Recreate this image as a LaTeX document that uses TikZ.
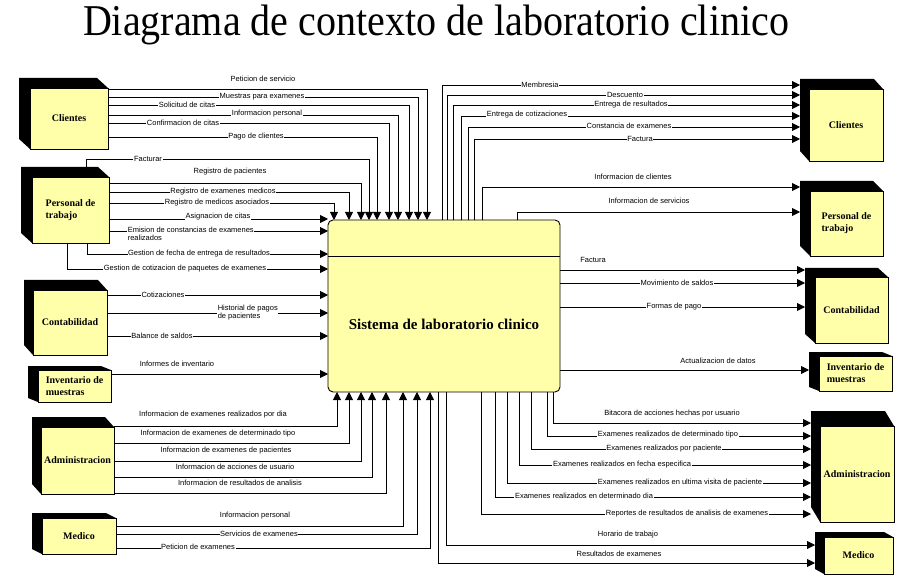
\documentclass[tikz,border=0pt]{standalone}
\usepackage{fontspec}
\setmainfont{Liberation Serif}
\setsansfont{Liberation Sans}
\usetikzlibrary{arrows.meta,calc}
\definecolor{entfill}{RGB}{255,255,170}
\tikzset{
  ent/.style={draw=black, line width=0.8pt, fill=entfill, anchor=north west,
    inner sep=0pt, outer sep=0pt, align=left,
    font=\fontsize{10}{12}\selectfont\bfseries},
  flow/.style={draw=black, line width=0.9pt, -{Triangle[length=8pt,width=8pt]}},
  lab/.style={font=\sffamily\fontsize{7.5}{8.7}\selectfont, fill=white, inner sep=0.6pt, align=left},
}
\newcommand{\entbox}[8]{%
  \fill[black] ({#2-#6},{#3-#7}) -- ({#4-#6},{#3-#7}) -- (#4,#3) -- (#4,#5) -- (#2,#5) -- ({#2-#6},{#5-#7}) -- cycle;
  \node[ent, minimum width={#4-#2}, minimum height={#5-#3}] (#1) at (#2,#3) {#8};
}
\begin{document}
\begin{tikzpicture}[x=1pt,y=-1pt]
\fill[white] (0,0) rectangle (916,580);
\useasboundingbox (0,0) rectangle (916,580);

\node[anchor=base] (title) at (436,36) {\scalebox{0.91}[1]{\fontsize{44}{48}\selectfont Diagrama de contexto de laboratorio clinico}};

% main process
\node[draw=black, line width=0.9pt, fill=entfill, rounded corners=5pt, anchor=north west,
  minimum width=232, minimum height=172, inner sep=0pt, outer sep=0pt] (sys) at (328,220) {};
\draw[line width=0.9pt] (sys.west |- 0,256) -- (sys.east |- 0,256);
\node[font=\fontsize{15}{17}\selectfont\bfseries] (systxt) at (444,324) {Sistema de laboratorio clinico};

% external entities (left)
\entbox{cliL}{30}{88}{108}{149}{11}{10}{Clientes}
\entbox{perL}{32}{177}{109}{243}{11}{10}{Personal de\\trabajo}
\entbox{conL}{33}{290}{107}{355}{9}{10}{Contabilidad}
\entbox{invL}{38}{370}{111}{402}{10}{4}{Inventario de\\muestras}
\entbox{admL}{41}{427}{114}{494}{9}{10}{Administracion}
\entbox{medL}{42}{518}{116}{554}{10}{5}{Medico}
% external entities (right)
\entbox{cliR}{809}{89}{883}{161}{9}{10}{Clientes}
\entbox{perR}{810}{191}{883}{256}{10}{10}{Personal de\\trabajo}
\entbox{conR}{815}{277}{888}{343}{10}{9}{Contabilidad}
\entbox{invR}{819}{356}{892}{391}{10}{4}{Inventario de\\muestras}
\entbox{admR}{820}{426}{894}{522}{9}{15}{Administracion}
\entbox{medR}{824}{537}{893}{574}{9}{5}{Medico}

% ---- Clientes -> sistema
\draw[flow] (cliL.east |- 0,89) -| (sys.north -| 427,0);
\draw[flow] (cliL.east |- 0,97) -| (sys.north -| 418,0);
\draw[flow] (cliL.east |- 0,105) -| (sys.north -| 409,0);
\draw[flow] (cliL.east |- 0,115) -| (sys.north -| 398,0);
\draw[flow] (cliL.east |- 0,123) -| (sys.north -| 389,0);
\draw[flow] (cliL.east |- 0,137) -| (sys.north -| 377,0);
\node[lab] (l1) at (263,79) {Peticion de servicio};
\node[lab] (l2) at (262,97) {Muestras para examenes};
\node[lab] (l3) at (187,105) {Solicitud de citas};
\node[lab] (l4) at (267,114) {Informacion personal};
\node[lab] (l5) at (183,123) {Confirmacion de citas};
\node[lab] (l6) at (256,137) {Pago de clientes};

% ---- Personal -> sistema
\draw[flow] (perL.north -| 86,0) -- ++(0,-18) -| (sys.north -| 369,0);
\draw[flow] (perL.east |- 0,183) -| (sys.north -| 361,0);
\draw[flow] (perL.east |- 0,192) -| (sys.north -| 349,0);
\draw[flow] (perL.east |- 0,203) -| (sys.north -| 334,0);
\draw[flow] (perL.east |- 0,219) -- (sys.west |- 0,219);
\draw[flow] (perL.east |- 0,231) -- (sys.west |- 0,231);
\draw[flow] (perL.south -| 87,0) |- (sys.west |- 0,254);
\draw[flow] (perL.south -| 67,0) |- (sys.west |- 0,269);
\node[lab] (l7) at (148,159) {Facturar};
\node[lab] (l8) at (230,172) {Registro de pacientes};
\node[lab] (l9) at (223,192) {Registro de examenes medicos};
\node[lab] (l10) at (217,203) {Registro de medicos asociados};
\node[lab] (l11) at (218,217) {Asignacion de citas};
\node[lab, anchor=north west] (l12) at (127,226) {Emision de constancias de examenes\\realizados};
\node[lab] (l13) at (199,254) {Gestion de fecha de entrega de resultados};
\node[lab] (l14) at (185,269) {Gestion de cotizacion de paquetes de examenes};

% ---- Contabilidad -> sistema
\draw[flow] (conL.east |- 0,295) -- (sys.west |- 0,295);
\draw[flow] (conL.east |- 0,313) -- (sys.west |- 0,313);
\draw[flow] (conL.east |- 0,336) -- (sys.west |- 0,336);
\node[lab] (l15) at (163,295) {Cotizaciones};
\node[lab, anchor=north west] (l16) at (217,304) {Historial de pagos\\de pacientes};
\node[lab] (l17) at (162,336) {Balance de saldos};

% ---- Inventario -> sistema
\draw[flow] (invL.east |- 0,374) -- (sys.west |- 0,374);
\node[lab] (l18) at (177,364) {Informes de inventario};

% ---- Administracion -> sistema
\draw[flow] (admL.east |- 0,426) -| (sys.south -| 337,0);
\draw[flow] (admL.east |- 0,443) -| (sys.south -| 349,0);
\draw[flow] (admL.east |- 0,461) -| (sys.south -| 361,0);
\draw[flow] (admL.east |- 0,477) -| (sys.south -| 372,0);
\draw[flow] (admL.east |- 0,493) -| (sys.south -| 386,0);
\node[lab] (l19) at (213,415) {Informacion de examenes realizados por dia};
\node[lab] (l20) at (218,434) {Informacion de examenes de determinado tipo};
\node[lab] (l21) at (226,451) {Informacion de examenes de pacientes};
\node[lab] (l22) at (235,467) {Informacion de acciones de usuario};
\node[lab] (l23) at (240,483) {Informacion de resultados de analisis};

% ---- Medico -> sistema
\draw[flow] (medL.east |- 0,526) -| (sys.south -| 403,0);
\draw[flow] (medL.east |- 0,534) -| (sys.south -| 417,0);
\draw[flow] (medL.east |- 0,548) -| (sys.south -| 430,0);
\node[lab] (l24) at (255,516) {Informacion personal};
\node[lab] (l25) at (259,534) {Servicios de examenes};
\node[lab] (l26) at (198,547) {Peticion de examenes};

% ---- sistema -> Clientes
\draw[flow, shorten >=9pt] (sys.north -| 442,0) |- (cliR.west |- 0,85);
\draw[flow, shorten >=9pt] (sys.north -| 447,0) |- (cliR.west |- 0,95);
\draw[flow, shorten >=9pt] (sys.north -| 453,0) |- (cliR.west |- 0,105);
\draw[flow, shorten >=9pt] (sys.north -| 461,0) |- (cliR.west |- 0,116);
\draw[flow, shorten >=9pt] (sys.north -| 468,0) |- (cliR.west |- 0,127);
\draw[flow, shorten >=9pt] (sys.north -| 474,0) |- (cliR.west |- 0,139);
\node[lab] (l27) at (540,85) {Membresia};
\node[lab] (l28) at (625,95) {Descuento};
\node[lab] (l29) at (631,105) {Entrega de resultados};
\node[lab] (l30) at (527,115) {Entrega de cotizaciones};
\node[lab] (l31) at (629,126) {Constancia de examenes};
\node[lab] (l32) at (640,139) {Factura};

% ---- sistema -> Personal
\draw[flow, shorten >=10pt] (sys.north -| 482,0) |- (perR.west |- 0,187);
\draw[flow, shorten >=10pt] (sys.north -| 517,0) |- (perR.west |- 0,212);
\node[lab] (l33) at (633,177) {Informacion de clientes};
\node[lab] (l34) at (649,201) {Informacion de servicios};

% ---- sistema -> Contabilidad
\draw[flow, shorten >=10pt] (sys.east |- 0,270) -- (conR.west |- 0,270);
\draw[flow, shorten >=10pt] (sys.east |- 0,283) -- (conR.west |- 0,283);
\draw[flow, shorten >=10pt] (sys.east |- 0,307) -- (conR.west |- 0,307);
\node[lab] (l35) at (593,260) {Factura};
\node[lab] (l36) at (677,283) {Movimiento de saldos};
\node[lab] (l37) at (674,307) {Formas de pago};

% ---- sistema -> Inventario
\draw[flow, shorten >=10pt] (sys.east |- 0,370) -- (invR.west |- 0,370);
\node[lab] (l38) at (718,361) {Actualizacion de datos};

% ---- sistema -> Administracion
\draw[flow, shorten >=9pt] (sys.south -| 553,0) |- (admR.west |- 0,423);
\draw[flow, shorten >=9pt] (sys.south -| 547,0) |- (admR.west |- 0,436);
\draw[flow, shorten >=9pt] (sys.south -| 531,0) |- (admR.west |- 0,449);
\draw[flow, shorten >=9pt] (sys.south -| 519,0) |- (admR.west |- 0,465);
\draw[flow, shorten >=9pt] (sys.south -| 507,0) |- (admR.west |- 0,483);
\draw[flow, shorten >=9pt] (sys.south -| 495,0) |- (admR.west |- 0,497);
\draw[flow, shorten >=9pt] (sys.south -| 481,0) |- (admR.west |- 0,514);
\node[lab] (l39) at (672,414) {Bitacora de acciones hechas por usuario};
\node[lab] (l40) at (668,435) {Examenes realizados de determinado tipo};
\node[lab] (l41) at (664,449) {Examenes realizados por paciente};
\node[lab] (l42) at (622,465) {Examenes realizados en fecha especifica};
\node[lab] (l43) at (680,483) {Examenes realizados en ultima visita de paciente};
\node[lab] (l44) at (584,496) {Examenes realizados en determinado dia};
\node[lab] (l45) at (687,514) {Reportes de resultados de analisis de examenes};

% ---- sistema -> Medico
\draw[flow, shorten >=9pt] (sys.south -| 446,0) |- (medR.west |- 0,545);
\draw[flow, shorten >=9pt] (sys.south -| 438,0) |- (medR.west |- 0,563);
\node[lab] (l46) at (628,535) {Horario de trabajo};
\node[lab] (l47) at (619,554) {Resultados de examenes};
\end{tikzpicture}
\end{document}
